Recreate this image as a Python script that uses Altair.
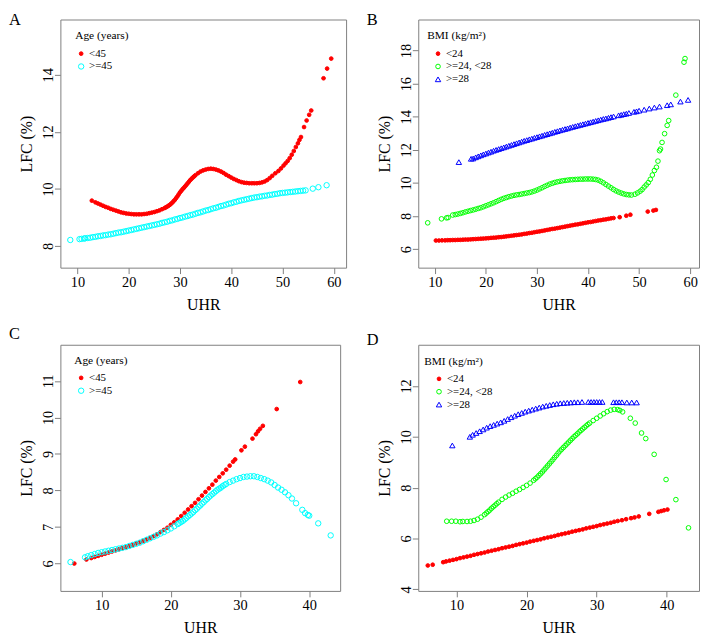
import altair as alt
import pandas as pd

FONT = "Liberation Serif, 'Times New Roman', Times, serif"

# ---------------- data ----------------
age_cats = ["<45", ">=45"]
bmi_cats = ["<24", ">=24, <28", ">=28"]

# Panel A
a_lt45 = [(12.8,9.59),(13.5,9.53),(14,9.49),(14.5,9.45),(15,9.41),(15.5,9.37),(16,9.34),(16.5,9.30),(17,9.27),(17.5,9.24),
          (18,9.21),(18.5,9.18),(19,9.16),(19.5,9.14),(20,9.13),(20.5,9.12),(21,9.11),(21.5,9.11),(22,9.11),(22.5,9.11),
          (23,9.12),(23.5,9.13),(24,9.15),(24.5,9.17),(25,9.19),(25.5,9.22),(26,9.25),(26.5,9.29),(27,9.33),(27.25,9.355),
          (27.5,9.38),(27.75,9.41),(28,9.44),(28.25,9.48),(28.5,9.52),(28.75,9.57),(29,9.62),(29.25,9.68),(29.5,9.74),(29.75,9.81),
          (30,9.88),(30.25,9.935),(30.5,9.99),(30.75,10.04),(31,10.09),(31.25,10.145),(31.5,10.2),(31.75,10.255),(32,10.31),(32.25,10.355),
          (32.5,10.4),(32.75,10.44),(33,10.48),(33.5,10.55),(34,10.61),(34.5,10.65),(35,10.68),(35.5,10.70),(36,10.71),(36.5,10.70),
          (37,10.68),(37.5,10.65),(38,10.61),(38.5,10.56),(39,10.50),(39.5,10.45),(40,10.40),(40.5,10.35),(41,10.31),(41.5,10.27),
          (42,10.24),(42.5,10.22),(43,10.21),(43.5,10.20),(44,10.20),(44.5,10.20),(45,10.20),(45.5,10.21),(46,10.23),(46.5,10.26),
          (47,10.31),(47.5,10.38),(48,10.46),(48.6,10.55),(49.2,10.63),(49.7,10.72),(50.2,10.82),(50.6,10.90),(51.0,10.98),(51.4,11.08),
          (51.8,11.20),(52.2,11.33),(52.6,11.47),(53.0,11.60),(53.3,11.72),(53.6,11.82),(54.2,12.17),(54.7,12.40),(55.2,12.60),(55.6,12.75),
          (58.0,13.88),(58.7,14.22),(59.5,14.57)]
a_ge45 = [(8.6,8.21),(10.4,8.24),(10.8,8.25),(11.3,8.26),(11.5,8.27),(12,8.28),(12.5,8.29),(13,8.31),(13.5,8.32),(14,8.34),
          (14.5,8.35),(15,8.37),(15.5,8.38),(16,8.40),(16.5,8.41),(17,8.43),(17.5,8.45),(18,8.47),(18.5,8.48),(19,8.50),
          (19.5,8.52),(20,8.54),(20.5,8.56),(21,8.58),(21.5,8.60),(22,8.62),(22.5,8.64),(23,8.66),(23.5,8.68),(24,8.70),
          (24.5,8.72),(25,8.74),(25.5,8.76),(26,8.78),(26.5,8.81),(27,8.83),(27.5,8.85),(28,8.88),(28.5,8.90),(29,8.93),
          (29.5,8.95),(30,8.98),(30.5,9.00),(31,9.03),(31.5,9.05),(32,9.08),(32.5,9.10),(33,9.13),(33.5,9.16),(34,9.18),
          (34.5,9.21),(35,9.24),(35.5,9.26),(36,9.29),(36.5,9.32),(37,9.34),(37.5,9.37),(38,9.40),(38.5,9.42),(39,9.45),
          (39.5,9.48),(40,9.50),(40.5,9.53),(41,9.55),(41.5,9.58),(42,9.60),(42.5,9.62),(43,9.64),(43.5,9.66),(44,9.68),
          (44.5,9.70),(45,9.71),(45.5,9.73),(46,9.74),(46.5,9.76),(47,9.77),(47.5,9.79),(48,9.80),(48.5,9.82),(49,9.83),
          (49.5,9.85),(50,9.86),(50.5,9.87),(51,9.88),(51.5,9.89),(52,9.90),(52.5,9.91),(53,9.92),(53.5,9.93),(54,9.94),
          (54.5,9.95),(55.9,10.01),(57.0,10.06),(58.6,10.13)]

# Panel B
b_lt24 = [(10.2,6.52),(10.8,6.52),(11.4,6.53),(12,6.53),(12.5,6.54),(13,6.54),(13.5,6.55),(14,6.55),(14.5,6.56),(15,6.56),
          (15.5,6.57),(16,6.58),(16.5,6.58),(17,6.59),(17.5,6.60),(18,6.61),(18.5,6.62),(19,6.63),(19.5,6.64),(20,6.65),
          (20.5,6.66),(21,6.68),(21.5,6.69),(22,6.70),(22.5,6.72),(23,6.73),(23.5,6.75),(24,6.77),(24.5,6.79),(25,6.81),
          (25.5,6.83),(26,6.85),(26.5,6.87),(27,6.89),(27.5,6.92),(28,6.94),(28.5,6.97),(29,6.99),(29.5,7.02),(30,7.05),
          (30.5,7.07),(31,7.10),(31.5,7.13),(32,7.16),(32.5,7.19),(33,7.22),(33.5,7.24),(34,7.27),(34.5,7.30),(35,7.33),
          (35.5,7.36),(36,7.39),(36.5,7.42),(37,7.45),(37.5,7.48),(38,7.50),(38.5,7.53),(39,7.56),(39.5,7.59),(40,7.62),
          (40.5,7.64),(41,7.67),(41.5,7.70),(42,7.73),(42.5,7.75),(43,7.78),(43.5,7.80),(44,7.83),(44.5,7.86),(45,7.88),
          (46.2,7.93),(47.5,8.02),(48.3,8.08),(51.7,8.27),(52.8,8.33),(53.3,8.37)]
b_24_28 = [(8.6,7.59),(11.3,7.83),(12.3,7.89),(12.6,7.91),(13.5,8.06),(14,8.09),(14.5,8.12),(15,8.16),(15.5,8.20),(16,8.25),
           (16.5,8.29),(17,8.33),(17.5,8.37),(18,8.41),(18.5,8.46),(19,8.50),(19.5,8.56),(20,8.62),(20.5,8.68),(21,8.74),
           (21.5,8.80),(22,8.87),(22.5,8.94),(23,9.01),(23.5,9.07),(24,9.12),(24.5,9.17),(25,9.21),(25.5,9.25),(26,9.28),
           (26.5,9.30),(27,9.33),(27.5,9.36),(28,9.39),(28.5,9.42),(29,9.46),(29.5,9.51),(30,9.57),(30.5,9.64),(31,9.71),
           (31.5,9.79),(32,9.86),(32.5,9.93),(33,9.98),(33.5,10.03),(34,10.07),(34.5,10.10),(35,10.13),(35.5,10.15),(36,10.17),
           (36.5,10.19),(37,10.20),(37.5,10.21),(38,10.22),(38.5,10.23),(39,10.23),(39.5,10.24),(40,10.24),(40.5,10.24),(41,10.23),
           (41.5,10.21),(42,10.17),(42.5,10.10),(43,10.01),(43.5,9.91),(44,9.81),(44.5,9.71),(45,9.61),(45.5,9.52),(46,9.45),
           (46.5,9.39),(47,9.34),(47.5,9.30),(48,9.28),(48.5,9.27),(49.2,9.32),(49.7,9.40),(50.2,9.50),(50.6,9.60),(51.0,9.75),
           (51.4,9.88),(51.8,10.02),(52.2,10.22),(52.6,10.48),(53.0,10.75),(53.4,10.95),(53.7,11.32),(54.0,11.95),(54.2,12.05),(54.5,12.45),
           (55.0,12.98),(55.5,13.48),(55.8,13.77),(57.2,15.31),(58.8,17.30),(59.0,17.52)]
b_ge28 = [(14.7,11.26),(17.1,11.46),(17.5,11.48),(18,11.55),(18.5,11.61),(19,11.67),(19.5,11.73),(20,11.78),(20.5,11.84),(21,11.89),
          (21.5,11.95),(22,12.0),(22.5,12.05),(23,12.1),(23.5,12.15),(24,12.2),(24.5,12.25),(25,12.3),(25.5,12.35),(26,12.4),
          (26.5,12.45),(27,12.5),(27.5,12.55),(28,12.59),(28.5,12.64),(29,12.68),(29.5,12.73),(30,12.77),(30.5,12.82),(31,12.86),
          (31.5,12.91),(32,12.95),(32.5,13.0),(33,13.04),(33.5,13.09),(34,13.13),(34.5,13.18),(35,13.22),(35.5,13.26),(36,13.3),
          (36.5,13.35),(37,13.39),(37.5,13.43),(38,13.47),(38.5,13.51),(39,13.55),(39.5,13.59),(40,13.63),(40.5,13.67),(41,13.71),
          (41.5,13.75),(42,13.79),(42.5,13.83),(43,13.87),(43.5,13.9),(44,13.94),(44.5,13.98),(45,14.02),(46,14.09),(46.5,14.12),
          (47,14.16),(47.5,14.19),(48,14.23),(49,14.3),(49.5,14.33),(50,14.37),(51,14.43),(52,14.5),(53,14.56),(54,14.62),
          (55.5,14.7),(56.2,14.75),(58.1,14.92),(59.6,15.02)]

# Panel C
c_lt45 = [(6.05,6.0),(7.8,6.11),(8.5,6.15),(9,6.18),(9.5,6.21),(10,6.24),(10.5,6.27),(11,6.30),(11.5,6.33),(12,6.36),
          (12.5,6.39),(13,6.42),(13.5,6.45),(14,6.48),(14.5,6.51),(15,6.55),(15.5,6.58),(16,6.62),(16.5,6.66),(17,6.70),
          (17.5,6.75),(18,6.80),(18.5,6.86),(19,6.92),(19.5,6.98),(20,7.06),(20.5,7.13),(21,7.21),(21.5,7.30),(22,7.39),
          (22.5,7.48),(23,7.57),(23.5,7.66),(24,7.76),(24.5,7.86),(25,7.96),(25.5,8.06),(26,8.16),(26.5,8.27),(27,8.37),
          (27.5,8.47),(28,8.57),(28.5,8.68),(29,8.79),(29.3,8.85),(30.2,9.10),(30.7,9.20),(31.8,9.42),(32.3,9.54),(32.6,9.62),
          (32.9,9.69),(33.3,9.77),(35.3,10.23),(38.7,10.97)]
c_ge45 = [(5.5,6.04),(7.6,6.17),(8,6.20),(8.5,6.23),(9,6.26),(9.5,6.29),(10,6.31),(10.5,6.33),(11,6.35),(11.5,6.37),
          (12,6.39),(12.5,6.41),(13,6.43),(13.5,6.45),(14,6.48),(14.5,6.51),(15,6.54),(15.5,6.57),(16,6.61),(16.5,6.65),
          (17,6.69),(17.5,6.73),(18,6.77),(18.5,6.82),(19,6.86),(19.5,6.91),(20,6.96),(20.5,7.02),(21,7.08),(21.25,7.11),
          (21.5,7.14),(21.75,7.17),(22,7.21),(22.25,7.25),(22.5,7.29),(22.75,7.33),(23,7.37),(23.25,7.41),(23.5,7.46),(23.75,7.50),
          (24,7.55),(24.25,7.59),(24.5,7.64),(24.75,7.68),(25,7.73),(25.25,7.77),(25.5,7.82),(25.75,7.86),(26,7.90),(26.25,7.94),
          (26.5,7.98),(26.75,8.02),(27,8.05),(27.25,8.08),(27.5,8.12),(27.75,8.15),(28,8.18),(28.5,8.23),(29,8.27),(29.5,8.31),
          (30,8.34),(30.5,8.37),(31,8.38),(31.5,8.39),(32,8.39),(32.5,8.37),(33,8.34),(33.5,8.31),(34,8.27),(34.5,8.22),
          (35,8.15),(35.5,8.08),(36,8.02),(36.5,7.95),(37,7.87),(37.5,7.78),(38.1,7.65),(39.0,7.47),(39.4,7.38),(39.8,7.33),
          (40.0,7.31),(41.3,7.10),(43.1,6.77)]

# Panel D
d_lt24 = [(5.9,4.94),(6.6,4.97),(8.1,5.07),(8.5,5.10),(9,5.13),(9.5,5.16),(10,5.19),(10.5,5.23),(11,5.26),(11.5,5.29),
          (12,5.32),(12.5,5.36),(13,5.39),(13.5,5.42),(14,5.45),(14.5,5.49),(15,5.52),(15.5,5.55),(16,5.58),(16.5,5.62),
          (17,5.65),(17.5,5.68),(18,5.71),(18.5,5.75),(19,5.78),(19.5,5.81),(20,5.84),(20.5,5.88),(21,5.91),(21.5,5.94),
          (22,5.97),(22.5,6.01),(23,6.04),(23.5,6.07),(24,6.10),(24.5,6.14),(25,6.17),(25.5,6.20),(26,6.23),(26.5,6.27),
          (27,6.30),(27.5,6.33),(28,6.36),(28.5,6.40),(29,6.43),(29.5,6.46),(30,6.49),(30.5,6.53),(31,6.56),(31.5,6.59),
          (32,6.62),(32.5,6.66),(33,6.69),(33.6,6.72),(34.2,6.76),(34.9,6.80),(35.4,6.83),(36.0,6.87),(37.5,6.97),(38.8,7.05),
          (39.2,7.08),(39.6,7.11),(40.1,7.14)]
d_24_28 = [(8.6,6.68),(9.3,6.68),(9.9,6.68),(10.5,6.66),(10.9,6.67),(11.5,6.67),(12,6.68),(12.5,6.71),(13,6.76),(13.5,6.84),
           (14,6.94),(14.25,7.0),(14.5,7.06),(14.75,7.12),(15,7.19),(15.25,7.25),(15.5,7.31),(15.75,7.37),(16,7.43),(16.5,7.54),
           (17,7.63),(17.5,7.71),(18,7.78),(18.5,7.86),(19,7.93),(19.5,8.01),(20,8.09),(20.5,8.18),(21,8.29),(21.25,8.35),
           (21.5,8.41),(21.75,8.48),(22,8.55),(22.25,8.62),(22.5,8.70),(22.75,8.78),(23,8.86),(23.25,8.94),(23.5,9.02),(23.75,9.10),
           (24,9.19),(24.25,9.27),(24.5,9.36),(24.75,9.44),(25,9.51),(25.25,9.58),(25.5,9.65),(25.75,9.72),(26,9.79),(26.25,9.86),
           (26.5,9.93),(26.75,10.0),(27,10.06),(27.25,10.12),(27.5,10.19),(27.75,10.25),(28,10.31),(28.25,10.37),(28.5,10.43),(28.75,10.49),
           (29,10.54),(29.5,10.64),(30,10.73),(30.5,10.82),(31,10.91),(31.5,10.99),(32,11.05),(32.5,11.08),(33,11.07),(33.3,11.04),
           (33.7,10.98),(34.8,10.73),(35.5,10.54),(36.4,10.15),(37.0,9.93),(38.2,9.31),(39.9,8.32),(41.3,7.53),(43.1,6.42)]
d_ge28 = [(9.4,9.66),(11.9,10.0),(12.3,10.08),(12.8,10.15),(13.3,10.22),(13.8,10.29),(14.3,10.36),(14.8,10.42),(15.3,10.47),(15.8,10.52),
          (16.3,10.57),(16.8,10.63),(17.3,10.70),(17.8,10.77),(18.3,10.83),(18.8,10.89),(19.3,10.94),(19.8,10.99),(20.3,11.03),(20.8,11.07),
          (21.3,11.11),(21.8,11.15),(22.3,11.19),(22.8,11.22),(23.3,11.25),(23.8,11.28),(24.3,11.30),(24.8,11.32),(25.3,11.33),(25.8,11.34),
          (26.3,11.35),(26.8,11.36),(27.3,11.36),(27.9,11.37),(28.8,11.37),(29.2,11.37),(29.6,11.37),(30.0,11.37),(30.4,11.37),(30.8,11.37),
          (32.4,11.36),(32.8,11.36),(33.2,11.36),(33.6,11.36),(34.3,11.35),(35.0,11.35),(35.7,11.35)]

age_x_ticks = [10, 20, 30, 40, 50, 60]
age_c_x_ticks = [10, 20, 30, 40]
a_y_ticks = [8, 10, 12, 14]
b_y_ticks = [6, 8, 10, 12, 14, 16, 18]
c_y_ticks = [6, 7, 8, 9, 10, 11]
d_y_ticks = [4, 6, 8, 10, 12]

RED, CYAN, GREEN, BLUE = "#FF0000", "#00FFFF", "#00FF00", "#0000FF"
GREY = "#7f7f7f"


def frame(groups):
    rows = []
    for name, pairs in groups:
        for x, y in pairs:
            rows.append({"UHR": x, "LFC": y, "grp": name})
    return pd.DataFrame(rows)


def panel(df, letter, letter_y, xdom, ydom, xticks, yticks, w, h,
          ltitle, cats, shapes, fills, strokes, sizes, legx, legy, symoff):
    leg = alt.Legend(title=ltitle, orient="none", legendX=legx, legendY=legy,
                     symbolOffset=symoff, padding=0,
                     titleFont=FONT, titleFontSize=11.5, titleFontWeight="normal",
                     titleColor="black", titlePadding=6.5,
                     labelFont=FONT, labelFontSize=11, labelColor="black",
                     labelOffset=2.5, rowPadding=1, symbolStrokeWidth=1)
    common_axis = dict(labelFont=FONT, labelFontSize=14.5, labelColor="black",
                       labelPadding=2, titleFont=FONT, titleFontSize=16,
                       titleFontWeight="normal", titleColor="black", grid=False,
                       domain=False, tickColor=GREY, tickSize=6, tickWidth=1,
                       format="d")
    pts = alt.Chart(df).mark_point(opacity=1, strokeWidth=1).encode(
        x=alt.X("UHR:Q", scale=alt.Scale(domain=xdom, nice=False, zero=False),
                axis=alt.Axis(values=xticks, title="UHR", titleY=42,
                              titleBaseline="alphabetic", **common_axis)),
        y=alt.Y("LFC:Q", scale=alt.Scale(domain=ydom, nice=False, zero=False),
                axis=alt.Axis(values=yticks, title="LFC (%)", labelAngle=270,
                              labelAlign="center", labelBaseline="alphabetic",
                              titleAngle=270, titleX=-29, titleBaseline="alphabetic",
                              **common_axis)),
        shape=alt.Shape("grp:N", scale=alt.Scale(domain=cats, range=shapes), legend=leg),
        fill=alt.Fill("grp:N", scale=alt.Scale(domain=cats, range=fills), legend=leg),
        stroke=alt.Stroke("grp:N", scale=alt.Scale(domain=cats, range=strokes), legend=leg),
        size=alt.Size("grp:N", scale=alt.Scale(domain=cats, range=sizes), legend=leg),
    )
    lab = alt.Chart(pd.DataFrame({"lab": [letter]})).mark_text(
        align="left", baseline="top", font=FONT, fontSize=16.5, color="black"
    ).encode(text="lab:N", x=alt.value(-52), y=alt.value(letter_y))
    return alt.layer(pts, lab).properties(width=w, height=h)


dfA = frame([("<45", a_lt45), (">=45", a_ge45)])
dfB = frame([("<24", b_lt24), (">=24, <28", b_24_28), (">=28", b_ge28)])
dfC = frame([("<45", c_lt45), (">=45", c_ge45)])
dfD = frame([("<24", d_lt24), (">=24, <28", d_24_28), (">=28", d_ge28)])

age_style = dict(cats=age_cats, shapes=["circle", "circle"], fills=[RED, "transparent"],
                 strokes=[RED, CYAN], sizes=[14, 30])
bmi_style = dict(cats=bmi_cats, shapes=["circle", "circle", "triangle-up"],
                 fills=[RED, "transparent", "transparent"], strokes=[RED, GREEN, BLUE],
                 sizes=[14, 30, 40])

pA = panel(dfA, "A", -7, [6.67, 62.4], [7.24, 15.94], age_x_ticks, a_y_ticks, 289, 251,
           "Age (years)", legx=15, legy=11, symoff=0.5, **age_style)
pB = panel(dfB, "B", -7, [6.75, 61.74], [4.88, 19.88], age_x_ticks, b_y_ticks, 284, 251,
           "BMI (kg/m²)", legx=9, legy=11, symoff=5.5, **bmi_style)
pC = panel(dfC, "C", -19, [4.04, 44.47], [5.25, 11.99], age_c_x_ticks, c_y_ticks, 283, 249,
           "Age (years)", legx=14, legy=10, symoff=1.5, **age_style)
pD = panel(dfD, "D", -13, [4.54, 44.6], [3.94, 13.62], age_c_x_ticks, d_y_ticks, 284, 249,
           "BMI (kg/m²)", legx=6, legy=11, symoff=9.5, **bmi_style)

chart = alt.concat(pA, pB, pC, pD, columns=2, spacing={"row": 78, "column": 73},
                   bounds="flush").resolve_scale(
    fill="independent", stroke="independent", shape="independent", size="independent",
    x="independent", y="independent"
).resolve_legend(
    fill="independent", stroke="independent", shape="independent", size="independent"
).properties(padding=0).configure_view(
    stroke=GREY, strokeWidth=1
)

chart.save("out.html", embed_options={"renderer": "svg", "actions": False})
